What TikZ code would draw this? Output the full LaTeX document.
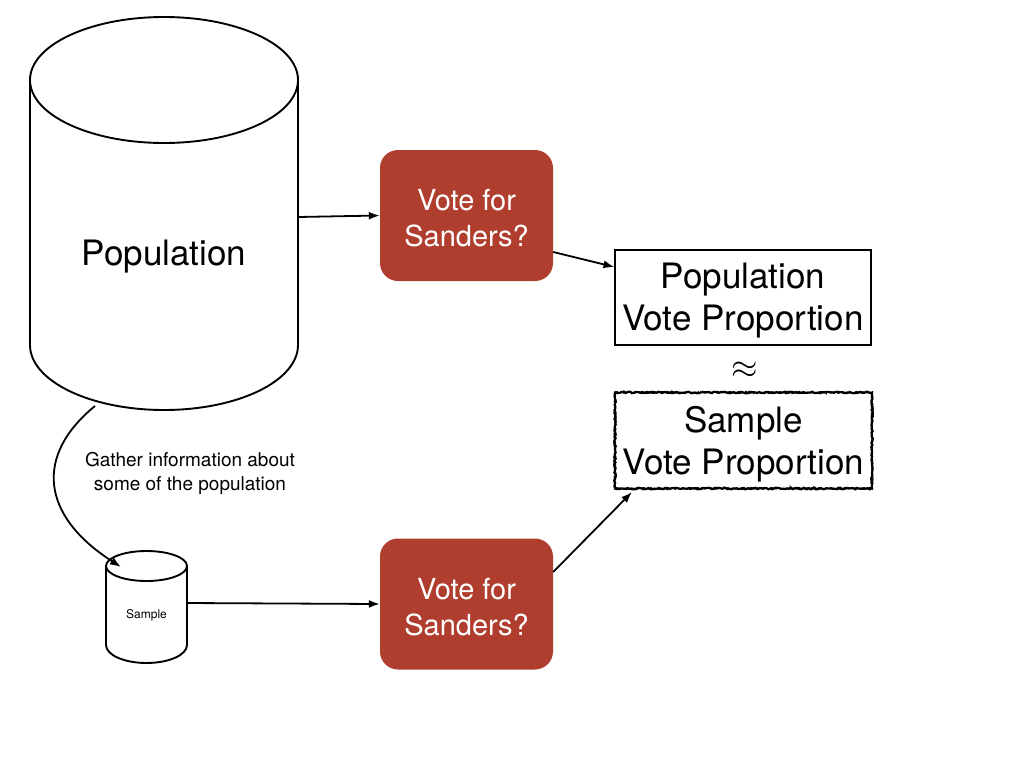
\documentclass[tikz,border=0pt]{standalone}
\usepackage{fontspec}
\setmainfont{TeX Gyre Heros}
\usetikzlibrary{arrows.meta,decorations.pathmorphing}
\definecolor{voteRed}{RGB}{176,62,46}
\tikzset{
  outline/.style={draw=black,line width=1.9pt},
  conn/.style={draw=black,line width=1.8pt,-{Latex[length=11pt,width=8pt]}},
  votebox/.style={fill=voteRed,rounded corners=18pt,minimum width=173pt,minimum height=131pt,inner sep=0pt},
  votetext/.style={text=white,align=center,font=\fontsize{29}{36}\selectfont,inner sep=0pt},
  propbox/.style={draw=black,line width=1.1pt,minimum width=256pt,minimum height=95pt,inner sep=0pt},
  proptext/.style={align=center,font=\fontsize{35}{42}\selectfont,inner sep=0pt},
  lbl/.style={align=center,inner sep=0pt}
}
\pgfmathsetseed{7}
\begin{document}
\begin{tikzpicture}[x=1pt,y=-1pt]
\useasboundingbox (0,0) rectangle (1024,768);
% Population cylinder
\draw[outline] (164,80) ellipse [x radius=134pt, y radius=63pt];
\draw[outline] (30,80) -- (30,345) arc[start angle=180,end angle=360,x radius=134pt,y radius=65pt] -- (298,80);
\node[lbl,font=\fontsize{35}{42}\selectfont] (pop) at (164,257) {Population};
\coordinate (popR) at (298,217);
\coordinate (popB) at (95,406);
% Sample cylinder
\draw[outline] (146.5,566) ellipse [x radius=40.5pt, y radius=15pt];
\draw[outline] (106,566) -- (106,645) arc[start angle=180,end angle=360,x radius=40.5pt,y radius=18pt] -- (187,566);
\node[lbl,font=\fontsize{12}{14}\selectfont] (samp) at (146.5,615) {Sample};
\coordinate (sampT) at (121,567);
\coordinate (sampR) at (187,603);
% Vote boxes
\node[votebox] (v1) at (466.5,215.5) {};
\node[votetext] (v1t) at (466.5,218.5) {Vote for\\Sanders?};
\node[votebox] (v2) at (466.5,604) {};
\node[votetext] (v2t) at (466.5,607) {Vote for\\Sanders?};
% Proportion boxes
\node[propbox] (pp) at (743,297.5) {};
\node[proptext] (ppt) at (743,301) {Population\\Vote Proportion};
\node[lbl] (approx) at (745,370) {\scalebox{3.4}{$\approx$}};
\node[propbox,draw=none] (sp) at (743.5,440.5) {};
\node[proptext] (spt) at (743.5,444) {Sample\\Vote Proportion};
\draw[line width=2.2pt,decorate,decoration={random steps,segment length=2pt,amplitude=0.8pt}]
  (sp.north west) rectangle (sp.south east);
\draw[line width=1.2pt,decorate,decoration={random steps,segment length=1.5pt,amplitude=1.1pt}]
  (sp.north west) rectangle (sp.south east);
% Label
\node[lbl,font=\fontsize{19}{24}\selectfont] (gather) at (190,473) {Gather information about\\some of the population};
% Connectors
\draw[conn] (popR) -- (v1.west);
\draw[conn] (v1.east |- 0,252) -- (pp.west |- 0,267);
\draw[conn] (popB) .. controls (35,455) and (40,515) .. (sampT);
\draw[conn] (sampR) -- (v2.west |- 0,604);
\draw[conn] (v2.east |- 0,572) -- (632,492);
\end{tikzpicture}
\end{document}
